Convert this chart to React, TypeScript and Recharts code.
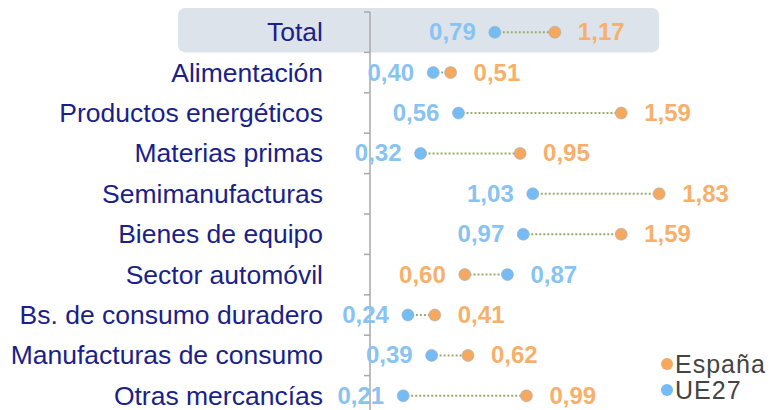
import { ScatterChart, Scatter, XAxis, YAxis, ReferenceArea } from "recharts";

const categories = [
  "Total",
  "Alimentación",
  "Productos energéticos",
  "Materias primas",
  "Semimanufacturas",
  "Bienes de equipo",
  "Sector automóvil",
  "Bs. de consumo duradero",
  "Manufacturas de consumo",
  "Otras mercancías",
];
const espana = [1.17, 0.51, 1.59, 0.95, 1.83, 1.59, 0.6, 0.41, 0.62, 0.99];
const ue27 = [0.79, 0.4, 0.56, 0.32, 1.03, 0.97, 0.87, 0.24, 0.39, 0.21];
const legendItems = [
  { name: "España", color: "#f5a85e" },
  { name: "UE27", color: "#74bcf3" },
];

const ROW = 40.4;
const AXIS_X = 370;
const FONT = "'Liberation Sans', Arial, sans-serif";

const esPoints = espana.map((v, i) => ({ x: v, idx: i, other: ue27[i] }));
const uePoints = ue27.map((v, i) => ({ x: v, idx: i, other: espana[i] }));
const connectors = categories.map((_, i) => [
  { x: ue27[i], idx: i },
  { x: espana[i], idx: i },
]);

const fmt = (v: number) => v.toFixed(2).replace(".", ",");

const CategoryTick = (props: any) => {
  const { y, payload } = props;
  return (
    <g>
      <line x1={AXIS_X - 6} x2={AXIS_X} y1={y - ROW / 2} y2={y - ROW / 2} stroke="#a9a9a9" strokeWidth={1.5} />
      <text x={323} y={y + 9} textAnchor="end" fill="#1b1f8a" fontSize={26.5} fontFamily={FONT}>
        {categories[payload.value]}
      </text>
    </g>
  );
};

const makeDot = (fill: string, textColor: string) => (props: any) => {
  const { cx, cy, payload } = props;
  const right = payload.x > payload.other;
  return (
    <g>
      <circle cx={cx} cy={cy} r={6} fill={fill} stroke="#a0b0be" strokeWidth={0.6} />
      <text
        x={right ? cx + 23 : cx - 19}
        y={cy + 8}
        textAnchor={right ? "start" : "end"}
        fill={textColor}
        fontSize={24}
        fontWeight="bold"
        fontFamily={FONT}
      >
        {fmt(payload.x)}
      </text>
    </g>
  );
};

const TotalBox = (props: any) => {
  const { x, y, width, height } = props;
  return <rect x={x} y={y} width={width} height={height} rx={7} fill="#dde3eb" />;
};

export default function App() {
  return (
    <div style={{ position: "absolute", left: 0, top: 0, width: 775, height: 420, background: "#fff" }}>
      <ScatterChart width={775} height={420} margin={{ top: 12, right: 89, bottom: 4, left: 0 }}>
        <ReferenceArea x1={-1.215} x2={1.83} y1={-0.6} y2={0.5} ifOverflow="visible" shape={TotalBox} />
        <XAxis type="number" dataKey="x" domain={[0, 2]} hide />
        <YAxis
          type="number"
          dataKey="idx"
          domain={[-0.5, 9.5]}
          reversed
          ticks={[0, 1, 2, 3, 4, 5, 6, 7, 8, 9]}
          interval={0}
          width={370}
          tickLine={false}
          axisLine={{ stroke: "#a9a9a9", strokeWidth: 1.5 }}
          tick={<CategoryTick />}
        />
        {connectors.map((pts, i) => (
          <Scatter
            key={i}
            data={pts}
            line={{ stroke: "#9aab6e", strokeWidth: 2, strokeDasharray: "2 2" }}
            shape={() => <g />}
            isAnimationActive={false}
          />
        ))}
        <Scatter name="UE27" data={uePoints} shape={makeDot("#74bcf3", "#88c3f2")} isAnimationActive={false} />
        <Scatter name="España" data={esPoints} shape={makeDot("#f5a85e", "#f7b06b")} isAnimationActive={false} />
      </ScatterChart>
      <div
        style={{
          position: "absolute",
          left: 661,
          top: 351,
          fontFamily: FONT,
          fontSize: 25,
          letterSpacing: 1,
          color: "#444",
          lineHeight: "26px",
        }}
      >
        {legendItems.map((it) => (
          <div key={it.name} style={{ display: "flex", alignItems: "center", height: 26 }}>
            <span
              style={{ width: 12, height: 12, borderRadius: 6, background: it.color, marginRight: 2, display: "inline-block" }}
            />
            {it.name}
          </div>
        ))}
      </div>
    </div>
  );
}
